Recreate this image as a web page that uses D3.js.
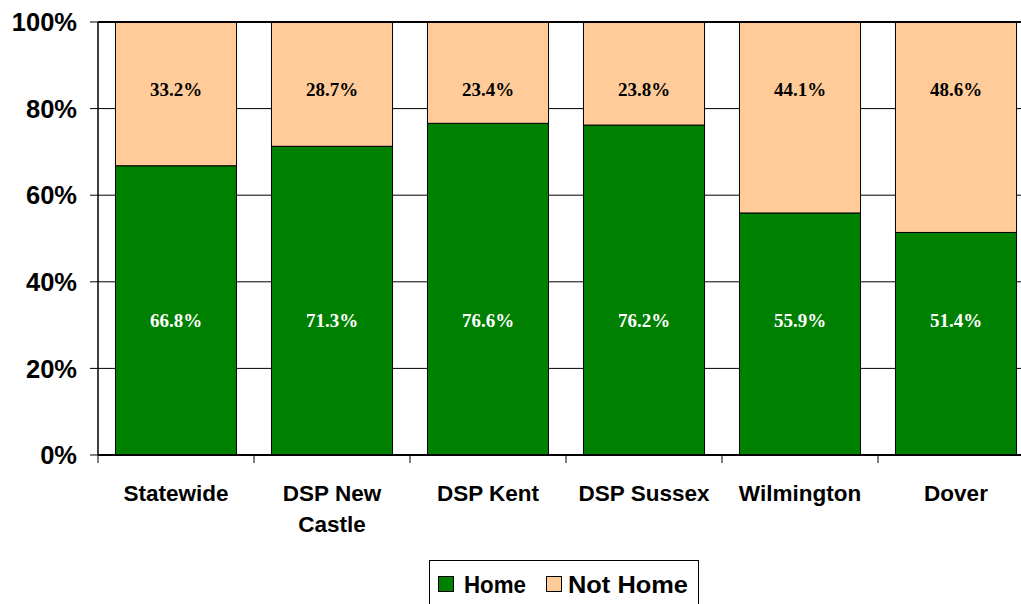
<!DOCTYPE html>
<html>
<head>
<meta charset="utf-8">
<script src="https://cdn.jsdelivr.net/npm/d3@7"></script>
<style>
  html, body { margin: 0; padding: 0; background: #fff; }
  svg { display: block; }
</style>
</head>
<body>
<script>
const categories = [["Statewide"], ["DSP New", "Castle"], ["DSP Kent"], ["DSP Sussex"], ["Wilmington"], ["Dover"]];
const homeValues = [66.8, 71.3, 76.6, 76.2, 55.9, 51.4];
const notHomeValues = [33.2, 28.7, 23.4, 23.8, 44.1, 48.6];
const seriesNames = ["Home", "Not Home"];
const seriesColors = ["#008000", "#FFCC99"];
const yTicks = [0, 20, 40, 60, 80, 100];

(function () {
const W = 1021, H = 604;
const svg = d3.select("body").append("svg").attr("width", W).attr("height", H);

const pLeft = 98, pTop = 22, pBottom = 455;
const x = d3.scaleBand().domain(d3.range(categories.length)).range([pLeft, pLeft + 156 * 6])
  .paddingInner(0.224).paddingOuter(0.112);
const y = d3.scaleLinear().domain([0, 100]).range([pBottom, pTop]);

// gridlines
svg.append("g").selectAll("line").data(yTicks).join("line")
  .attr("x1", pLeft).attr("x2", W)
  .attr("y1", d => y(d)).attr("y2", d => y(d))
  .attr("stroke", "#000").attr("stroke-width", d => d === 100 ? 2 : 1);

// bars
const rows = categories.map((c, i) => ({ i, home: homeValues[i], notHome: notHomeValues[i] }));
const stack = d3.stack().keys(["home", "notHome"])(rows);
stack.forEach((s, k) => {
  svg.append("g").selectAll("rect").data(s).join("rect")
    .attr("x", d => x(d.data.i))
    .attr("width", x.bandwidth())
    .attr("y", d => y(d[1]))
    .attr("height", d => y(d[0]) - y(d[1]))
    .attr("fill", seriesColors[k])
    .attr("stroke", "#000").attr("stroke-width", 1);
});
svg.append("line").attr("x1", pLeft).attr("x2", W).attr("y1", y(100)).attr("y2", y(100))
  .attr("stroke", "#000").attr("stroke-width", 2);

// value labels
svg.append("g").selectAll("text").data(rows).join("text")
  .attr("x", d => x(d.i) + x.bandwidth() / 2)
  .attr("y", y(31))
  .attr("dy", "0.35em")
  .attr("text-anchor", "middle")
  .attr("font-family", "'Liberation Serif', 'Times New Roman', serif")
  .attr("font-weight", "bold").attr("font-size", 19).attr("fill", "#fff")
  .text(d => d.home.toFixed(1) + "%");
svg.append("g").selectAll("text").data(rows).join("text")
  .attr("x", d => x(d.i) + x.bandwidth() / 2)
  .attr("y", y(84.5))
  .attr("dy", "0.35em")
  .attr("text-anchor", "middle")
  .attr("font-family", "'Liberation Serif', 'Times New Roman', serif")
  .attr("font-weight", "bold").attr("font-size", 19).attr("fill", "#000")
  .text(d => d.notHome.toFixed(1) + "%");

// y axis
svg.append("line").attr("x1", pLeft).attr("x2", pLeft).attr("y1", pTop).attr("y2", pBottom)
  .attr("stroke", "#000").attr("stroke-width", 1.5);
svg.append("g").selectAll("line").data(yTicks).join("line")
  .attr("x1", pLeft - 8).attr("x2", pLeft).attr("y1", d => y(d)).attr("y2", d => y(d))
  .attr("stroke", "#000").attr("stroke-width", 1);
svg.append("g").selectAll("text").data(yTicks).join("text")
  .attr("x", pLeft - 21).attr("y", d => y(d)).attr("dy", "0.36em")
  .attr("text-anchor", "end")
  .attr("font-family", "'Liberation Sans', Arial, sans-serif")
  .attr("font-weight", "bold").attr("font-size", 25.5)
  .text(d => d + "%");

// x axis
svg.append("line").attr("x1", pLeft).attr("x2", W).attr("y1", pBottom).attr("y2", pBottom)
  .attr("stroke", "#000").attr("stroke-width", 2);
const step = x.step();
svg.append("g").selectAll("line").data(d3.range(categories.length + 1)).join("line")
  .attr("x1", d => pLeft + step * d).attr("x2", d => pLeft + step * d)
  .attr("y1", pBottom).attr("y2", pBottom + 8)
  .attr("stroke", "#000").attr("stroke-width", 1);
const cat = svg.append("g").selectAll("text").data(categories).join("text")
  .attr("text-anchor", "middle")
  .attr("font-family", "'Liberation Sans', Arial, sans-serif")
  .attr("font-weight", "bold").attr("font-size", 22.5);
cat.each(function (lines, i) {
  const t = d3.select(this);
  lines.forEach((ln, j) => {
    t.append("tspan").attr("x", x(i) + x.bandwidth() / 2).attr("y", 501 + j * 31).text(ln);
  });
});

// legend
const lg = svg.append("g");
lg.append("rect").attr("x", 429.5).attr("y", 560.5).attr("width", 269).attr("height", 50)
  .attr("fill", "#fff").attr("stroke", "#000").attr("stroke-width", 1);
const legendItems = [{ name: seriesNames[0], color: seriesColors[0], sx: 438, tx: 464, len: 62 },
                     { name: seriesNames[1], color: seriesColors[1], sx: 546, tx: 568, len: 120 }];
legendItems.forEach(it => {
  lg.append("rect").attr("x", it.sx + 0.5).attr("y", 576.5).attr("width", 15).attr("height", 15)
    .attr("fill", it.color).attr("stroke", "#000").attr("stroke-width", 1);
  lg.append("text").attr("x", it.tx).attr("y", 593)
    .attr("font-family", "'Liberation Sans', Arial, sans-serif")
    .attr("font-weight", "bold").attr("font-size", 24)
    .attr("textLength", it.len).attr("lengthAdjust", "spacingAndGlyphs")
    .text(it.name);
});
})();
</script>
</body>
</html>
